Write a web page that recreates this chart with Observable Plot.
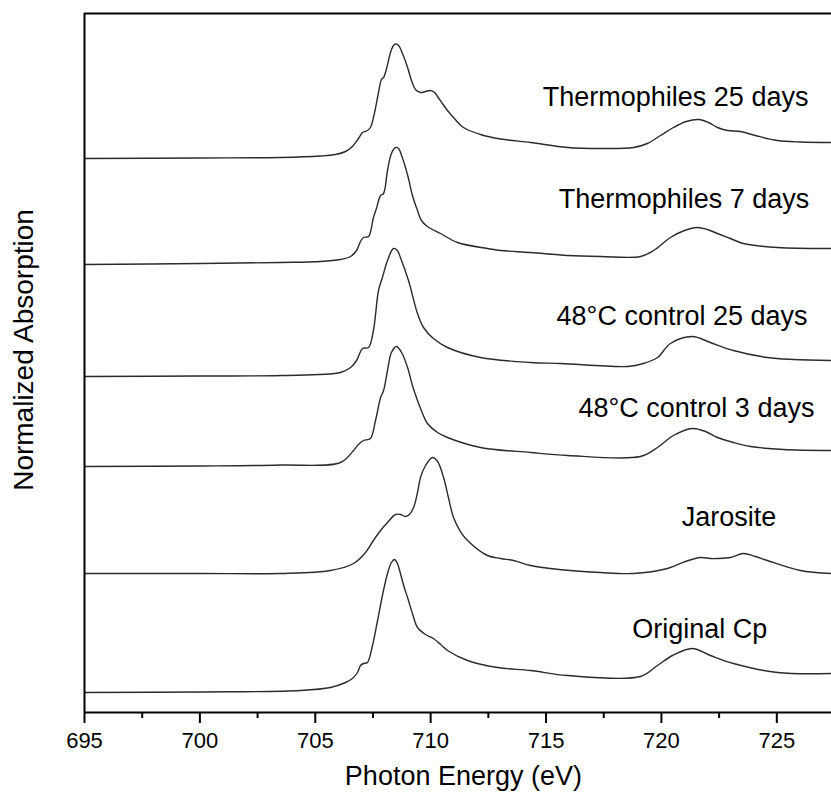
<!DOCTYPE html>
<html>
<head>
<meta charset="utf-8">
<script src="https://cdn.jsdelivr.net/npm/d3@7"></script>
<script src="https://cdn.jsdelivr.net/npm/@observablehq/plot@0.6"></script>
<style>
  html, body { margin: 0; padding: 0; background: #ffffff; }
  #chart { width: 831px; height: 799px; overflow: hidden; }
</style>
</head>
<body>
<div id="chart"></div>
<script>
// ---- Data ----
const seriesNames = ["Thermophiles 25 days", "Thermophiles 7 days", "48°C control 25 days",
                     "48°C control 3 days", "Jarosite", "Original Cp"];
// vertical offsets of each stacked spectrum (normalized units)
const offsets = [5.54, 4.48, 3.36, 2.46, 1.39, 0.20];

const energyThermo25 = [695.00,700.03,703.49,705.23,705.88,706.31,706.61,706.87,707.05,707.22,707.39,707.57,707.74,707.87,707.96,708.09,708.26,708.39,708.48,708.61,708.78,709.00,709.17,709.34,709.56,709.78,709.99,710.17,710.30,710.51,710.73,710.99,711.42,712.16,713.03,714.33,715.93,717.36,718.79,719.39,719.96,720.52,721.08,721.60,722.04,722.43,722.86,723.42,724.07,725.03,726.02,727.37];
const absThermo25    = [0,0.005,0.01,0.025,0.04,0.07,0.12,0.20,0.26,0.275,0.31,0.46,0.66,0.79,0.81,0.90,1.06,1.13,1.145,1.13,1.05,0.91,0.78,0.69,0.66,0.67,0.68,0.66,0.62,0.55,0.48,0.41,0.31,0.24,0.195,0.16,0.11,0.10,0.11,0.15,0.23,0.31,0.37,0.39,0.36,0.31,0.28,0.27,0.23,0.18,0.165,0.16];

const energyThermo7 = [695.00,700.03,703.49,705.23,706.09,706.53,706.79,706.96,707.09,707.31,707.52,707.65,707.83,707.96,708.13,708.30,708.48,708.61,708.74,708.87,709.04,709.21,709.43,709.60,709.86,710.43,711.16,712.46,713.03,714.33,715.93,717.36,719.09,719.66,720.39,721.00,721.56,721.99,722.43,722.99,723.55,725.03,727.37];
const absThermo7    = [0,0.01,0.02,0.03,0.05,0.08,0.14,0.23,0.27,0.28,0.47,0.56,0.69,0.71,0.94,1.11,1.17,1.16,1.09,1.00,0.86,0.69,0.54,0.44,0.38,0.31,0.22,0.16,0.14,0.12,0.09,0.08,0.08,0.14,0.27,0.34,0.37,0.35,0.31,0.26,0.21,0.17,0.16];

const energyCtrl25 = [695.00,700.03,703.49,706.09,706.53,706.79,707.05,707.31,707.52,707.74,707.91,708.13,708.39,708.56,708.69,709.04,709.43,709.69,710.12,710.73,712.16,714.33,715.63,718.53,719.22,719.83,720.39,721.34,722.12,723.12,724.59,725.72,727.37];
const absCtrl25    = [0,0.005,0.01,0.04,0.09,0.16,0.28,0.29,0.46,0.86,0.99,1.16,1.28,1.26,1.19,0.96,0.63,0.49,0.38,0.29,0.19,0.14,0.13,0.10,0.13,0.19,0.33,0.40,0.34,0.26,0.19,0.17,0.16];

const energyCtrl3 = [695.00,700.03,703.49,706.09,706.66,706.87,707.09,707.39,707.61,707.83,707.96,708.13,708.30,708.52,708.74,709.00,709.21,709.43,709.65,709.86,710.30,710.73,712.16,714.33,715.93,719.09,719.83,720.52,721.34,721.91,722.43,723.12,723.86,725.29,727.37];
const absCtrl3    = [0,0.005,0.015,0.04,0.16,0.22,0.26,0.28,0.46,0.69,0.76,0.96,1.14,1.20,1.14,0.99,0.81,0.66,0.53,0.43,0.34,0.29,0.19,0.14,0.11,0.10,0.19,0.31,0.38,0.35,0.29,0.24,0.20,0.17,0.16];

const energyJarosite = [695.00,700.03,703.49,705.66,706.66,707.18,707.52,707.83,708.13,708.48,708.69,708.91,709.08,709.26,709.43,709.56,709.78,710.08,710.30,710.56,710.77,710.99,711.29,711.60,712.46,713.03,713.59,714.33,715.19,717.36,718.79,720.26,721.04,721.69,722.12,722.43,722.99,723.55,724.07,724.59,726.02,727.37];
const absJarosite    = [0,0,0,0.03,0.10,0.21,0.33,0.43,0.51,0.59,0.59,0.57,0.59,0.66,0.81,0.96,1.08,1.16,1.12,0.96,0.76,0.56,0.42,0.33,0.18,0.15,0.13,0.08,0.05,0.01,0,0.05,0.12,0.16,0.15,0.15,0.16,0.20,0.17,0.13,0.03,0];

const energyOriginal = [695.00,700.03,704.36,705.66,706.31,706.61,706.83,706.96,707.09,707.26,707.48,707.70,707.91,708.13,708.30,708.43,708.56,708.69,708.87,709.00,709.21,709.43,709.78,710.12,710.43,710.73,711.60,712.90,714.33,715.93,719.09,719.83,720.48,721.34,722.12,723.12,725.03,727.37];
const absOriginal    = [0,0.005,0.02,0.05,0.10,0.14,0.20,0.27,0.29,0.30,0.47,0.72,0.97,1.19,1.30,1.33,1.29,1.19,1.04,0.95,0.79,0.65,0.58,0.54,0.48,0.42,0.32,0.25,0.22,0.17,0.16,0.27,0.37,0.44,0.37,0.29,0.20,0.19];

// label anchor positions (right end of text, in data units)
const labelEnergy = [726.37, 726.41, 726.33, 726.63, 724.98, 724.59];
const labelLevel  = [6.15, 5.13, 3.96, 3.04, 1.95, 0.83];

const majorTicks = [695, 700, 705, 710, 715, 720, 725];
const minorTicks = [697.5, 702.5, 707.5, 712.5, 717.5, 722.5];

const xDomain = [695, 727.37];
const yDomain = [0, 6.99];

// ---- Build table ----
const energies = [energyThermo25, energyThermo7, energyCtrl25, energyCtrl3, energyJarosite, energyOriginal];
const absorptions = [absThermo25, absThermo7, absCtrl25, absCtrl3, absJarosite, absOriginal];
const rows = [];
seriesNames.forEach((name, i) => {
  energies[i].forEach((e, j) => rows.push({series: name, energy: e, value: absorptions[i][j] + offsets[i]}));
});
const labels = seriesNames.map((name, i) => ({name, x: labelEnergy[i], y: labelLevel[i]}));

const font = "'Liberation Sans', Arial, Helvetica, sans-serif";

const chart = Plot.plot({
  width: 831,
  height: 799,
  marginLeft: 84,
  marginRight: 0,
  marginTop: 13,
  marginBottom: 87,
  style: {fontFamily: font, background: "#ffffff", color: "#000000", overflow: "visible"},
  x: {domain: xDomain, axis: null},
  y: {domain: yDomain, axis: null},
  marks: [
    Plot.lineY(rows, {x: "energy", y: "value", z: "series", curve: "catmull-rom", stroke: "#2b2b2b", strokeWidth: 1.4}),
    Plot.ruleX([xDomain[0]], {stroke: "#000", strokeWidth: 2}),
    Plot.ruleY(yDomain, {stroke: "#000", strokeWidth: 2}),
    Plot.axisX({ticks: majorTicks, anchor: "bottom", tickSize: 11, tickPadding: 9, fontSize: 22, strokeWidth: 2, label: null, tickFormat: d => String(d)}),
    Plot.axisX({ticks: minorTicks, anchor: "bottom", tickSize: 6, strokeWidth: 2, label: null, tickFormat: () => ""}),
    Plot.text(labels, {x: "x", y: "y", text: "name", textAnchor: "end", fontSize: 27, fill: "#000"}),
    Plot.text(["Photon Energy (eV)"], {x: [711.42], frameAnchor: "bottom", dy: 72, text: d => d, fontSize: 27, fill: "#000"}),
    Plot.text(["Normalized Absorption"], {x: [xDomain[0]], y: [3.625], dx: -60, rotate: -90, text: d => d, fontSize: 28, fill: "#000"})
  ]
});
document.getElementById("chart").appendChild(chart);
</script>
</body>
</html>
